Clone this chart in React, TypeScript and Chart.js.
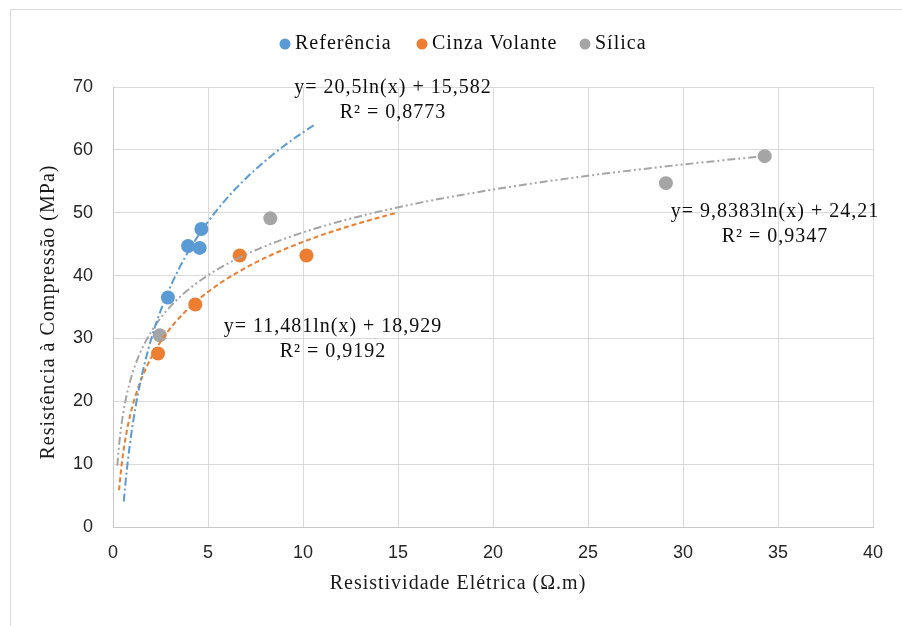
import React, { useEffect, useRef } from "react";
import { Chart, registerables } from "chart.js";

Chart.register(...registerables);

// ---- data ----
const seriesNames = ["Referência", "Cinza Volante", "Sílica"];
const refX = [2.89, 3.95, 4.56, 4.65];
const refY = [36.5, 44.7, 44.4, 47.4];
const cinzaX = [2.37, 4.33, 6.67, 10.18];
const cinzaY = [27.6, 35.4, 43.2, 43.2];
const silicaX = [2.46, 8.28, 29.1, 34.3];
const silicaY = [30.5, 49.1, 54.7, 59.0];

// logarithmic trendlines y = a ln(x) + b, as printed on the chart
const trendA = [20.5, 11.481, 9.8383];
const trendB = [15.582, 18.929, 24.21];
const trendFrom = [0.57, 0.32, 0.23];
const trendTo = [10.7, 15, 34.3];

const eqLabels = ["y= 20,5ln(x) + 15,582", "y= 11,481ln(x) + 18,929", "y= 9,8383ln(x) + 24,21"];
const r2Labels = ["R² = 0,8773", "R² = 0,9192", "R² = 0,9347"];
const xTitle = "Resistividade Elétrica (Ω.m)";
const yTitle = "Resistência à Compressão (MPa)";

// ---- styles / layout ----
const colors = ["#5B9BD5", "#ED7D31", "#A5A5A5"];
const dashes = [
  [8, 3, 2, 3],
  [5, 3],
  [8, 3, 2, 3, 2, 3],
];
const eqPos = [
  { x: 393, y: 88 },
  { x: 333, y: 327 },
  { x: 775, y: 212 },
];
const legendPos = [285, 422, 585];
const SERIF = '"Liberation Serif", "Times New Roman", serif';
const SANS = '"Liberation Sans", Arial, sans-serif';

function pts(xs: number[], ys: number[]) {
  return xs.map((x, i) => ({ x, y: ys[i] }));
}

function trendPoints(i: number) {
  const out: { x: number; y: number }[] = [];
  const n = 160;
  const l0 = Math.log(trendFrom[i]);
  const l1 = Math.log(trendTo[i]);
  for (let k = 0; k <= n; k++) {
    const x = Math.exp(l0 + ((l1 - l0) * k) / n);
    out.push({ x, y: trendA[i] * Math.log(x) + trendB[i] });
  }
  return out;
}

const decor = {
  id: "decor",
  beforeDraw(chart: any) {
    const ctx = chart.ctx;
    ctx.save();
    ctx.fillStyle = "#ffffff";
    ctx.fillRect(0, 0, chart.width, chart.height);
    ctx.strokeStyle = "#d9d9d9";
    ctx.lineWidth = 1;
    ctx.beginPath();
    ctx.moveTo(10.5, chart.height);
    ctx.lineTo(10.5, 9.5);
    ctx.lineTo(chart.width, 9.5);
    ctx.stroke();
    ctx.restore();
  },
  afterDraw(chart: any) {
    const ctx = chart.ctx;
    ctx.save();
    ctx.fillStyle = "#0d0d0d";
    ctx.font = "20px " + SERIF;
    (ctx as any).letterSpacing = "1px";
    ctx.textAlign = "center";
    ctx.textBaseline = "middle";
    eqLabels.forEach((t, i) => {
      ctx.fillText(t, eqPos[i].x, eqPos[i].y);
      ctx.fillText(r2Labels[i], eqPos[i].x, eqPos[i].y + 25);
    });
    // legend
    ctx.textAlign = "left";
    seriesNames.forEach((name, i) => {
      ctx.beginPath();
      ctx.fillStyle = colors[i];
      ctx.arc(legendPos[i], 44, 5.5, 0, Math.PI * 2);
      ctx.fill();
      ctx.fillStyle = "#0d0d0d";
      ctx.fillText(name, legendPos[i] + 10, 44);
    });
    // axis titles
    ctx.fillStyle = "#1a1a1a";
    ctx.textAlign = "center";
    ctx.fillText(xTitle, 458, 584);
    ctx.translate(49, 312);
    ctx.rotate(-Math.PI / 2);
    ctx.fillText(yTitle, 0, 0);
    ctx.restore();
  },
};

export default function App() {
  const ref = useRef<HTMLCanvasElement | null>(null);
  useEffect(() => {
    if (!ref.current) return;
    const scatterSets = [pts(refX, refY), pts(cinzaX, cinzaY), pts(silicaX, silicaY)].map((d, i) => ({
      label: seriesNames[i],
      data: d,
      backgroundColor: colors[i],
      borderColor: colors[i],
      pointRadius: 7,
      pointBorderWidth: 0,
      showLine: false,
      order: 2,
    }));
    const trendSets = [0, 1, 2].map((i) => ({
      label: "trend " + seriesNames[i],
      data: trendPoints(i),
      borderColor: colors[i],
      backgroundColor: colors[i],
      borderWidth: 2,
      borderDash: dashes[i],
      pointRadius: 0,
      showLine: true,
      fill: false,
      tension: 0,
      order: 1,
    }));
    const chart = new Chart(ref.current, {
      type: "scatter",
      data: { datasets: [...scatterSets, ...trendSets] as any },
      options: {
        animation: false,
        responsive: false,
        devicePixelRatio: 1,
        layout: { padding: { left: 0, right: 29, top: 87, bottom: 0 } },
        plugins: {
          legend: { display: false },
          tooltip: { enabled: false },
        },
        scales: {
          x: {
            type: "linear",
            min: 0,
            max: 40,
            ticks: { stepSize: 5, padding: 15, color: "#262626", font: { family: SANS, size: 18 } },
            grid: { color: "#d9d9d9", drawTicks: false },
            border: { color: "#c8c8c8" },
            afterFit: (s: any) => {
              s.height = 99;
            },
          },
          y: {
            type: "linear",
            min: 0,
            max: 70,
            ticks: { stepSize: 10, padding: 20, color: "#262626", font: { family: SANS, size: 18 } },
            grid: { color: "#d9d9d9", drawTicks: false },
            border: { color: "#c8c8c8" },
            afterFit: (s: any) => {
              s.width = 113;
            },
          },
        },
      } as any,
      plugins: [decor],
    });
    return () => chart.destroy();
  }, []);
  return (
    <div style={{ position: "fixed", left: 0, top: 0, width: 902, height: 626, background: "#fff" }}>
      <canvas ref={ref} width={902} height={626} style={{ display: "block", width: 902, height: 626 }} />
    </div>
  );
}
